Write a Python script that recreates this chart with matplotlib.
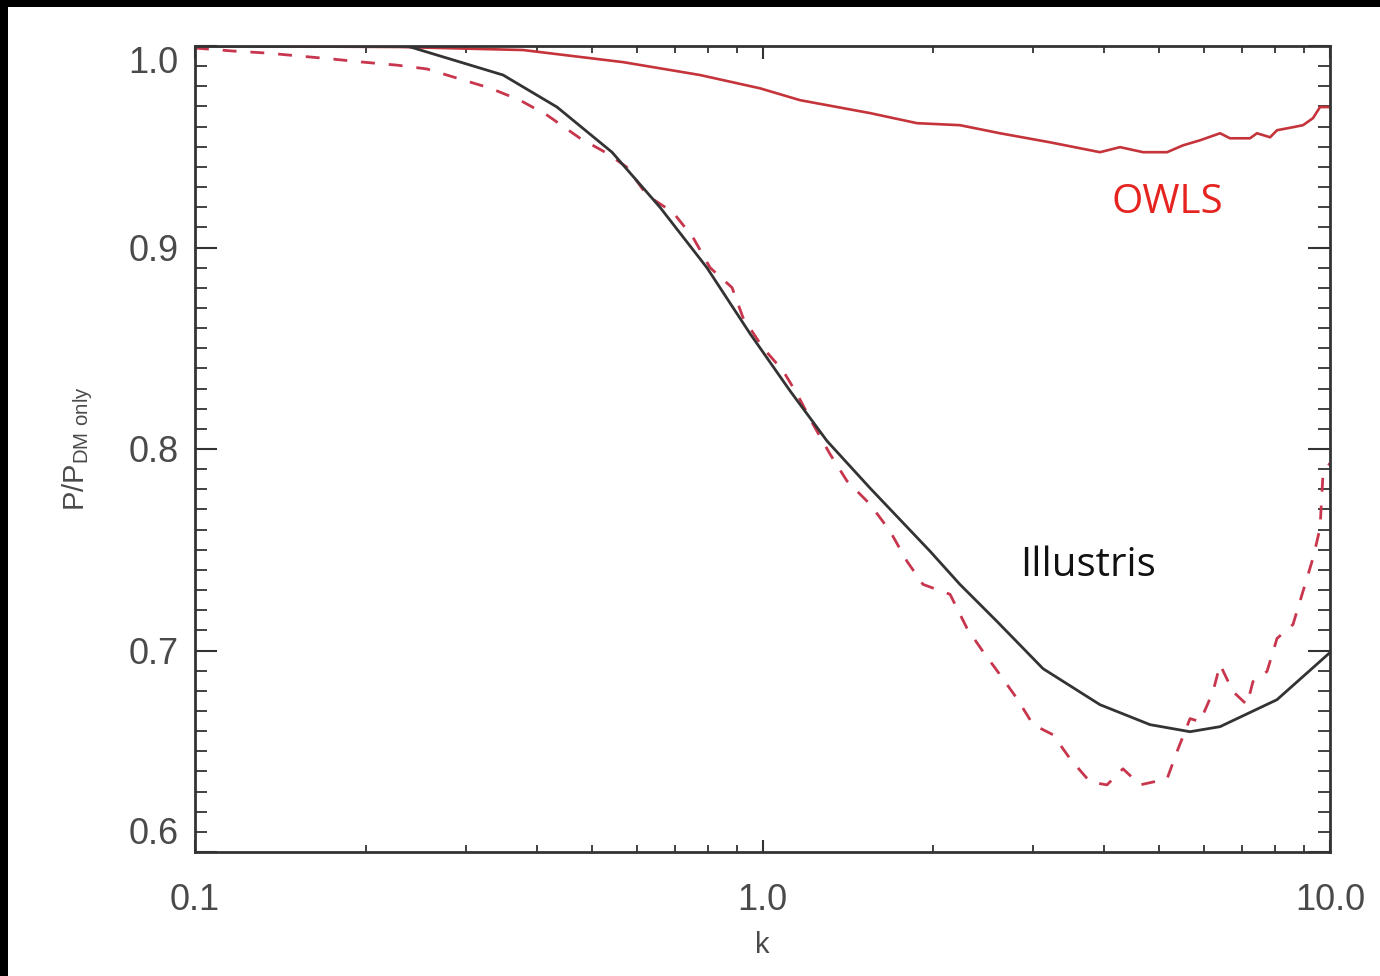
import numpy as np
import matplotlib
matplotlib.use('Agg')
import matplotlib.pyplot as plt
from matplotlib.patches import Rectangle
from matplotlib.ticker import FixedLocator, NullFormatter, MultipleLocator

# Illustris (black, solid)
k_ill = [0.1, 0.2364, 0.349, 0.4344, 0.543, 0.660, 0.798, 0.951, 1.118, 1.299,
         1.547, 1.973, 2.228, 2.590, 3.121, 3.933, 4.818, 5.667, 6.401, 8.066, 10.0]
p_ill = [1.0, 1.0, 0.9856, 0.9697, 0.9473, 0.9199, 0.890, 0.8572, 0.8289, 0.804,
         0.7806, 0.7493, 0.7328, 0.7144, 0.691, 0.6731, 0.6632, 0.6597, 0.6622, 0.6756, 0.699]

# OWLS (red, solid)
k_owls = [0.1, 0.2298, 0.3784, 0.5677, 0.776, 0.990, 1.165, 1.547, 1.872, 2.228,
          2.621, 3.211, 3.933, 4.266, 4.684, 5.163, 5.508, 5.902, 6.401, 6.665,
          7.228, 7.436, 7.842, 8.066, 8.605, 8.963, 9.333, 9.603, 10.0]
p_owls = [1.0, 0.9995, 0.998, 0.992, 0.9856, 0.979, 0.9731, 0.9667, 0.9617, 0.9607,
          0.9567, 0.9522, 0.9473, 0.9498, 0.9473, 0.9473, 0.9507, 0.9532, 0.9567, 0.9542,
          0.9542, 0.9567, 0.9547, 0.9582, 0.9597, 0.9607, 0.9642, 0.9697, 0.9697]

# red dashed
k_dash = [0.1, 0.1167, 0.1339, 0.1531, 0.175, 0.1977, 0.2269, 0.2563, 0.2931, 0.3311,
          0.3738, 0.4172, 0.477, 0.532, 0.577, 0.626, 0.6957, 0.7543, 0.8083, 0.8837,
          0.924, 1.002, 1.087, 1.15, 1.227, 1.315, 1.409, 1.547, 1.678, 1.797,
          1.918, 2.140, 2.293, 2.446, 2.621, 2.809, 2.998, 3.25, 3.483, 3.776,
          4.046, 4.317, 4.627, 5.163, 5.375, 5.667, 5.902, 6.221, 6.401, 6.747,
          7.14, 7.316, 7.745, 8.066, 8.605, 8.963, 9.333, 9.603, 9.72, 10.0]
p_dash = [0.999, 0.9975, 0.9965, 0.995, 0.9935, 0.992, 0.9905, 0.9886, 0.9836, 0.9791,
          0.9731, 0.9657, 0.9542, 0.9468, 0.9398, 0.9259, 0.9174, 0.905, 0.890, 0.8801,
          0.8652, 0.8502, 0.8388, 0.8274, 0.8124, 0.7975, 0.7841, 0.7726, 0.7592, 0.7443,
          0.7328, 0.7279, 0.711, 0.6995, 0.688, 0.6761, 0.6632, 0.6582, 0.6463, 0.6348,
          0.6333, 0.6413, 0.6333, 0.6363, 0.6498, 0.6662, 0.6647, 0.6796, 0.693, 0.6796,
          0.6731, 0.6846, 0.6896, 0.706, 0.7129, 0.7294, 0.7458, 0.7607, 0.7876, 0.793]

xtick_vals = [0.1, 1.0, 10.0]
xtick_labels = ['0.1', '1.0', '10.0']
ytick_vals = [0.6, 0.7, 0.8, 0.9, 1.0]
ytick_labels = ['0.6', '0.7', '0.8', '0.9', '1.0']

fig = plt.figure(figsize=(13.8, 9.76), dpi=100, facecolor='black')
fig.add_artist(Rectangle((8/1380, 0), 1 - 8/1380, 969/976, transform=fig.transFigure,
                         facecolor='white', edgecolor='none', zorder=-10))

ax = fig.add_axes([195/1380, 124/976, 1135/1380, 806/976])
ax.set_facecolor('white')

ax.plot(k_owls, p_owls, color='#c4343a', lw=1.9)
ax.plot(k_dash, p_dash, color='#c8364e', lw=2.0, linestyle=(0, (5, 5)))
ax.plot(k_ill, p_ill, color='#333333', lw=2.0)

ax.set_xscale('log')
ax.set_xlim(0.1, 10.0)
ax.set_ylim(0.6, 1.0)

ax.xaxis.set_major_locator(FixedLocator(xtick_vals))
ax.set_xticklabels(xtick_labels)
ax.xaxis.set_minor_locator(FixedLocator([m * d for d in (0.1, 1.0) for m in range(2, 10)]))
ax.xaxis.set_minor_formatter(NullFormatter())
ax.set_yticks(ytick_vals)
ax.set_yticklabels(ytick_labels)
ax.yaxis.set_minor_locator(MultipleLocator(0.01))

for lab in ax.get_xticklabels() + ax.get_yticklabels():
    lab.set_fontfamily('Liberation Sans')
    lab.set_fontsize(26)
    lab.set_color('#4a4a4a')
# end labels sit inside the frame, like the original
ylabs = ax.get_yticklabels()
ylabs[0].set_va('bottom')
ylabs[-1].set_va('top')

ax.tick_params(axis='both', which='both', direction='in', top=True, right=True, color='#333333')
ax.tick_params(axis='y', which='major', length=16, width=1.5, pad=12)
ax.tick_params(axis='y', which='minor', length=8.5, width=1.3)
ax.tick_params(axis='x', which='major', length=9, width=1.5, pad=22)
ax.tick_params(axis='x', which='minor', length=5, width=1.3)
for s in ax.spines.values():
    s.set_linewidth(2.0)
    s.set_color('#333333')

ax.set_xlabel('k', fontfamily='Liberation Sans', fontsize=21, color='#4a4a4a')
ax.xaxis.set_label_coords(0.5, -0.098)
ax.set_ylabel(r'$\mathregular{P/P_{DM\ only}}$', fontfamily='Liberation Sans', fontsize=21,
              color='#4a4a4a')
ax.yaxis.set_label_coords(-0.088, 0.5)

ax.text(5.16, 0.922, 'OWLS', color='#e52420', fontsize=29, fontfamily='Open Sans',
        ha='center', va='center')
ax.text(3.75, 0.742, 'Illustris', color='#111111', fontsize=29, fontfamily='Open Sans',
        ha='center', va='center')

fig.savefig('out.png', dpi=100, facecolor=fig.get_facecolor())
